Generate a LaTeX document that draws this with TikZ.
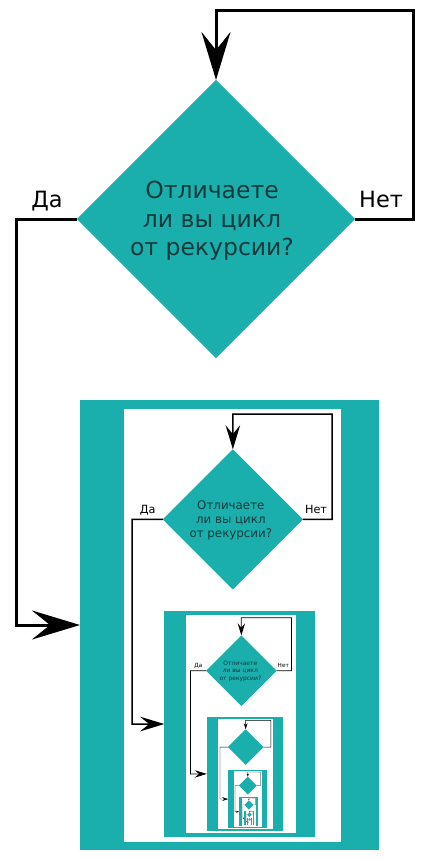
\documentclass[tikz,border=0pt]{standalone}
\usepackage{fontspec}
\setmainfont{DejaVu Sans}
\usetikzlibrary{shapes.geometric,arrows.meta}
\definecolor{tealfill}{HTML}{1AAFAD}
\definecolor{qtext}{HTML}{123A3B}
% one drawing unit = 0.12pt (one pixel of the 430x860 reference)
\tikzset{
  decision/.style={diamond, fill=tealfill, minimum width=33.36pt, minimum height=33.36pt,
    inner sep=0pt, outer sep=0pt, aspect=1},
  question/.style={text=qtext, align=center, inner sep=0pt,
    font=\fontsize{2.82pt}{3.42pt}\selectfont},
  answer/.style={font=\fontsize{2.69pt}{3.12pt}\selectfont, text=black, inner sep=0pt},
  framebox/.style={rectangle, fill=tealfill, minimum width=35.88pt, minimum height=54pt,
    inner sep=0pt, outer sep=0pt},
}
\newcommand\flowlevel[1]{%
  \pgfmathsetmacro\sc{0.504^#1}%
  \pgfmathsetmacro\lw{0.36*\sc}%
  \pgfmathsetmacro\al{5.76*\sc}%
  \pgfmathsetmacro\aw{3.48*\sc}%
  \pgfmathsetmacro\ai{2.16*\sc}%
  \tikzset{conn/.style={draw=black, line width=\lw pt, line join=miter,
      -{Stealth[length=\al pt, width=\aw pt, inset=\ai pt]}}}%
  \node[framebox] (b#1) at (229.5,625) {};
  \fill[white] (124,409) rectangle (341,842);
  \node[decision] (d#1) at (216,219) {};
  \ifnum#1<3
    \node[question] (q#1) at (212,221) {Отличаете\\ли вы цикл\\от рекурсии?};
    \node[answer] (yes#1) at (47,201) {Да};
    \node[answer] (no#1) at (381,199) {Нет};
  \fi
  \draw[conn] (d#1.east) -- (413,219) |- (216,10) -- (d#1.north);
  \draw[conn] (d#1.west) -- (16,219) |- (b#1.west);
  \ifnum#1<7
    \begin{scope}[shift={(124,409)}, scale=0.504, transform shape]
      \expandafter\flowlevel\expandafter{\number\numexpr#1+1\relax}
    \end{scope}
  \fi
}
\begin{document}
\begin{tikzpicture}[x=0.12pt, y=-0.12pt]
  \useasboundingbox (0,0) rectangle (430,860);
  \fill[white] (0,0) rectangle (430,860);
  \flowlevel{0}
\end{tikzpicture}
\end{document}
